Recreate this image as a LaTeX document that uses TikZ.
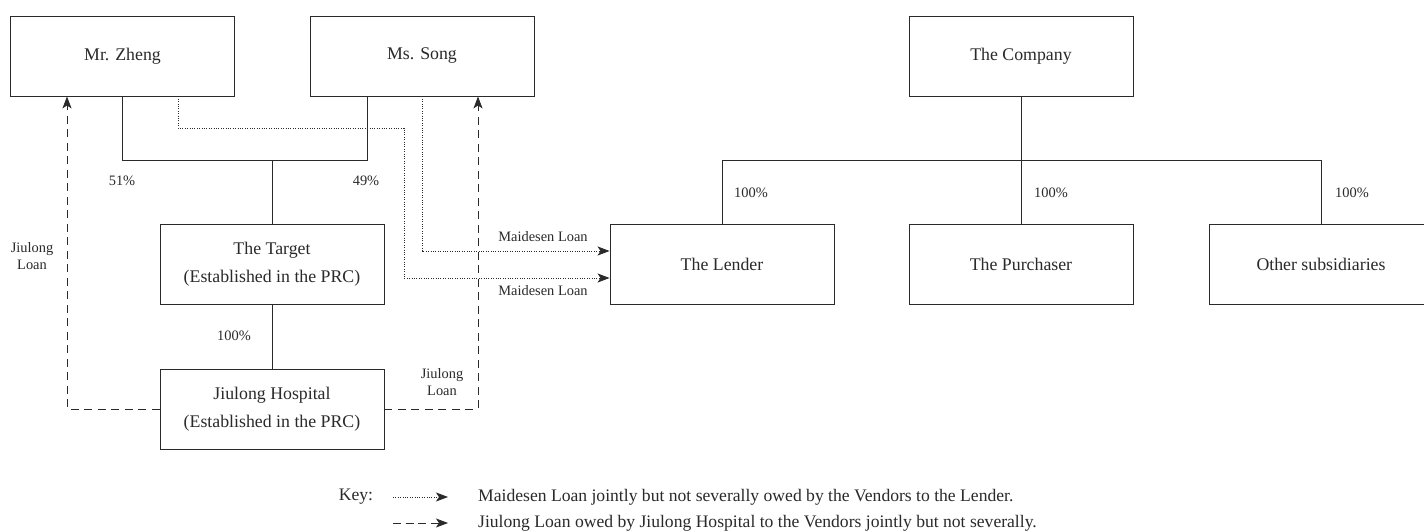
\documentclass[tikz,border=0pt]{standalone}
\usepackage{fontspec}
\setmainfont{Liberation Serif}
\usetikzlibrary{arrows.meta}
\definecolor{ink}{HTML}{2A2A2A}
\tikzset{
  box/.style={draw=ink, line width=0.9pt, minimum width=224pt, minimum height=80pt, inner sep=0pt,
    align=center, text=ink, font=\fontsize{17.8}{28}\selectfont},
  own/.style={draw=ink, line width=0.9pt},
  pct/.style={text=ink, font=\fontsize{14.4}{17}\selectfont, inner sep=0pt, align=center},
  keytext/.style={text=ink, font=\fontsize{17.6}{21}\selectfont, inner sep=0pt, anchor=west},
  tip/.style={-{Stealth[length=12pt,width=9pt,inset=3pt,fill=ink]}},
  mloan/.style={draw=ink, line width=0.8pt, dash pattern=on 1pt off 1.4pt, tip},
  jloan/.style={draw=ink, line width=0.8pt, dash pattern=on 8pt off 5.5pt, tip}
}
\begin{document}
\begin{tikzpicture}[x=1pt,y=-1pt]
\clip (0,0) rectangle (1424,532);
\fill[white] (0,0) rectangle (1424,532);
% boxes
\node[box] (zheng) at (122.5,56) {Mr. Zheng};
\node[box] (song) at (422,56) {Ms. Song};
\node[box] (company) at (1021,56) {The Company};
\node[box] (target) at (272,264) {The Target\\(Established in the PRC)};
\node[box] (hospital) at (272,409) {Jiulong Hospital\\(Established in the PRC)};
\node[box] (lender) at (722,264) {The Lender};
\node[box] (purchaser) at (1021,264) {The Purchaser};
\node[box] (other) at (1321,264) {Other subsidiaries};
% ownership left
\coordinate (jt) at (272,160);
\draw[own] (zheng.south) |- (jt);
\draw[own] ([xshift=-55pt]song.south) |- (jt);
\draw[own] (jt) -- (target.north);
\draw[own] (target.south) -- (hospital.north);
% ownership right
\coordinate (jc) at (1021,160);
\draw[own] (company.south) -- (jc);
\draw[own] (lender.north) |- (jc);
\draw[own] (other.north) |- (jc);
\draw[own] (jc) -- (purchaser.north);
% percentages
\node[pct] (p51) at (122,181) {51\%};
\node[pct] (p49) at (366,181) {49\%};
\node[pct] (p100a) at (234,336) {100\%};
\node[pct] (p100b) at (751,193) {100\%};
\node[pct] (p100c) at (1051,193) {100\%};
\node[pct] (p100d) at (1352,193) {100\%};
% Maidesen loans
\coordinate (mz) at (404,128);
\draw[mloan] ([xshift=55.5pt]zheng.south) |- (mz) |- ([yshift=-14pt]lender.west);
\draw[mloan] (song.south) |- ([yshift=13pt]lender.west);
\node[pct] (ml1) at (543,237) {Maidesen Loan};
\node[pct] (ml2) at (543,291) {Maidesen Loan};
% Jiulong loans
\draw[jloan] (hospital.west) -| ([xshift=-55.5pt]zheng.south);
\draw[jloan] (hospital.east) -| ([xshift=56pt]song.south);
\node[pct] (jl1) at (32,256) {Jiulong\\Loan};
\node[pct] (jl2) at (442,382) {Jiulong\\Loan};
% key
\node[keytext, anchor=center] (key) at (356,497) {Key:};
\coordinate (k1a) at (393,497);
\coordinate (k1b) at (448,497);
\coordinate (k2a) at (393,523);
\coordinate (k2b) at (448,523);
\draw[mloan] (k1a) -- (k1b);
\draw[jloan, dash pattern=on 8pt off 4.5pt] (k2a) -- (k2b);
\node[keytext] (kt1) at (478,497) {Maidesen Loan jointly but not severally owed by the Vendors to the Lender.};
\node[keytext] (kt2) at (478,523) {Jiulong Loan owed by Jiulong Hospital to the Vendors jointly but not severally.};
\end{tikzpicture}
\end{document}
